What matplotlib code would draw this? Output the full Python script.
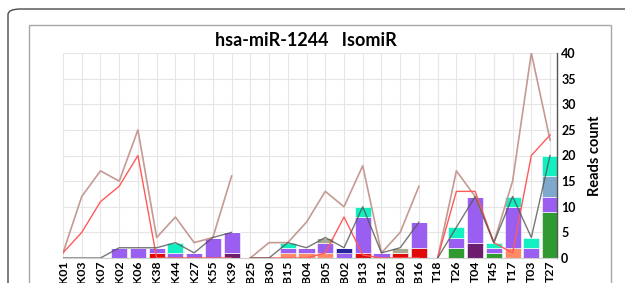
import matplotlib
matplotlib.use("Agg")
import matplotlib.pyplot as plt
import numpy as np
from matplotlib.patches import FancyBboxPatch, Rectangle

plt.rcParams["font.family"] = ["Lato", "DejaVu Sans"]

samples = ["K01", "K03", "K07", "K02", "K06", "K38", "K44", "K27", "K55", "K39",
           "B25", "B30", "B15", "B04", "B05", "B02", "B13", "B12", "B20", "B16",
           "T18", "T26", "T04", "T45", "T17", "T03", "T27"]
group_sizes = [10, 10, 7]

# stacked isomiR segments, bottom to top
green      = [0, 0, 0, 0, 0, 0, 0, 0, 0, 0,  0, 0, 0, 0, 0, 0, 0, 0, 0, 0,  0, 2, 0, 1, 0, 0, 9]
dark_purp  = [0, 0, 0, 0, 0, 0, 0, 0, 0, 1,  0, 0, 0, 0, 0, 0, 0, 0, 0, 0,  0, 0, 3, 0, 0, 0, 0]
red        = [0, 0, 0, 0, 0, 1, 0, 0, 0, 0,  0, 0, 0, 0, 0, 0, 1, 0, 1, 2,  0, 0, 0, 0, 0, 0, 0]
salmon     = [0, 0, 0, 0, 0, 0, 0, 0, 0, 0,  0, 0, 1, 1, 1, 0, 0, 0, 0, 0,  0, 0, 0, 0, 2, 0, 0]
purple     = [0, 0, 0, 2, 2, 1, 1, 1, 4, 4,  0, 0, 1, 1, 2, 1, 7, 1, 0, 5,  0, 2, 9, 1, 8, 2, 3]
navy       = [0, 0, 0, 0, 0, 0, 0, 0, 0, 0,  0, 0, 0, 0, 0, 1, 0, 0, 0, 0,  0, 0, 0, 0, 0, 0, 0]
khaki      = [0, 0, 0, 0, 0, 0, 0, 0, 0, 0,  0, 0, 0, 0, 1, 0, 0, 0, 1, 0,  0, 0, 0, 0, 0, 0, 0]
steel      = [0, 0, 0, 0, 0, 0, 0, 0, 0, 0,  0, 0, 0, 0, 0, 0, 0, 0, 0, 0,  0, 0, 0, 0, 0, 0, 4]
aqua       = [0, 0, 0, 0, 0, 0, 2, 0, 0, 0,  0, 0, 1, 0, 0, 0, 2, 0, 0, 0,  0, 2, 0, 1, 2, 2, 4]

# line series
brown_line = [1, 12, 17, 15, 25, 4, 8, 3, 4, 16,  0, 3, 3, 7, 13, 10, 18, 1, 5, 14,  0, 17, 12, 3, 15, 40, 23]
red_line   = [1, 5, 11, 14, 20, 0, 0, 0, 0, 0,  0, 0, 0, 0, 1, 8, 0.6, 0, 0, 0,  0, 13, 13, 3, 1, 20, 24]
total_line = [0, 0, 0, 2, 2, 2, 3, 1, 4, 5,  0, 0, 3, 2, 4, 2, 10, 1, 2, 7,  0, 6, 12, 3, 12, 4, 20]

segments = [
    (green, "#2f9a30"),
    (dark_purp, "#6c1d6e"),
    (red, "#e10a0a"),
    (salmon, "#ff8a66"),
    (purple, "#9a5ef0"),
    (navy, "#25249c"),
    (khaki, "#a9aa93"),
    (steel, "#7fa8cd"),
    (aqua, "#12f0c2"),
]

W, H = 625, 283
fig = plt.figure(figsize=(W / 100, H / 100), dpi=100)

# outer rounded frame and inner box (figure pixel coords)
outer = FancyBboxPatch((8 / W, 1 - 300 / H), 640 / W, (300 - 9) / H,
                       boxstyle="round,pad=0,rounding_size=0.02",
                       transform=fig.transFigure, fill=False,
                       edgecolor="#4a4a4a", linewidth=1.0)
fig.patches.append(outer)
inner = Rectangle((29 / W, 1 - 300 / H), (611 - 29) / W, (300 - 25) / H,
                  transform=fig.transFigure, fill=False,
                  edgecolor="#a8a8a8", linewidth=1.0)
fig.patches.append(inner)

ax = fig.add_axes([63 / W, 1 - 258 / H, (557 - 63) / W, (258 - 53) / H])
x = np.arange(len(samples))

bottom = np.zeros(len(samples))
for vals, col in segments:
    v = np.array(vals, dtype=float)
    ax.bar(x, v, width=0.86, bottom=bottom, color=col, edgecolor="white",
           linewidth=0.4, zorder=2)
    bottom += v

start = 0
for n in group_sizes:
    sl = slice(start, start + n)
    ax.plot(x[sl], brown_line[sl], color="#c49a92", lw=1.2, zorder=3)
    ax.plot(x[sl], red_line[sl], color="#ff5a5a", lw=1.0, zorder=3)
    ax.plot(x[sl], total_line[sl], color="#555555", lw=1.0, alpha=0.8, zorder=4)
    start += n

ax.set_xlim(0, 26.37)
ax.set_ylim(0, 40)
ax.set_yticks(np.arange(0, 41, 5))
ax.yaxis.tick_right()
ax.yaxis.set_label_position("right")
ax.set_ylabel("Reads count", fontsize=10.5, fontweight="bold", labelpad=9)
ax.tick_params(axis="y", length=0, pad=3, labelsize=9)
for lab in ax.get_yticklabels():
    lab.set_fontweight("bold")

ax.set_xticks(x)
ax.set_xticklabels(samples, rotation=90, fontsize=8.8, fontweight="bold", va="top")
ax.tick_params(axis="x", length=0, pad=2)

ax.grid(True, color="#e6e6e6", linewidth=0.8, zorder=0)
ax.set_axisbelow(True)
for side in ["left", "top"]:
    ax.spines[side].set_visible(False)
ax.spines["bottom"].set_color("#cfcfcf")
ax.spines["right"].set_color("#555555")
ax.spines["right"].set_linewidth(1.0)

fig.text(306 / W, 1 - 40 / H, "hsa-miR-1244   IsomiR", ha="center", va="center",
         fontsize=13, fontweight="bold")

fig.savefig("out.png", dpi=100)
